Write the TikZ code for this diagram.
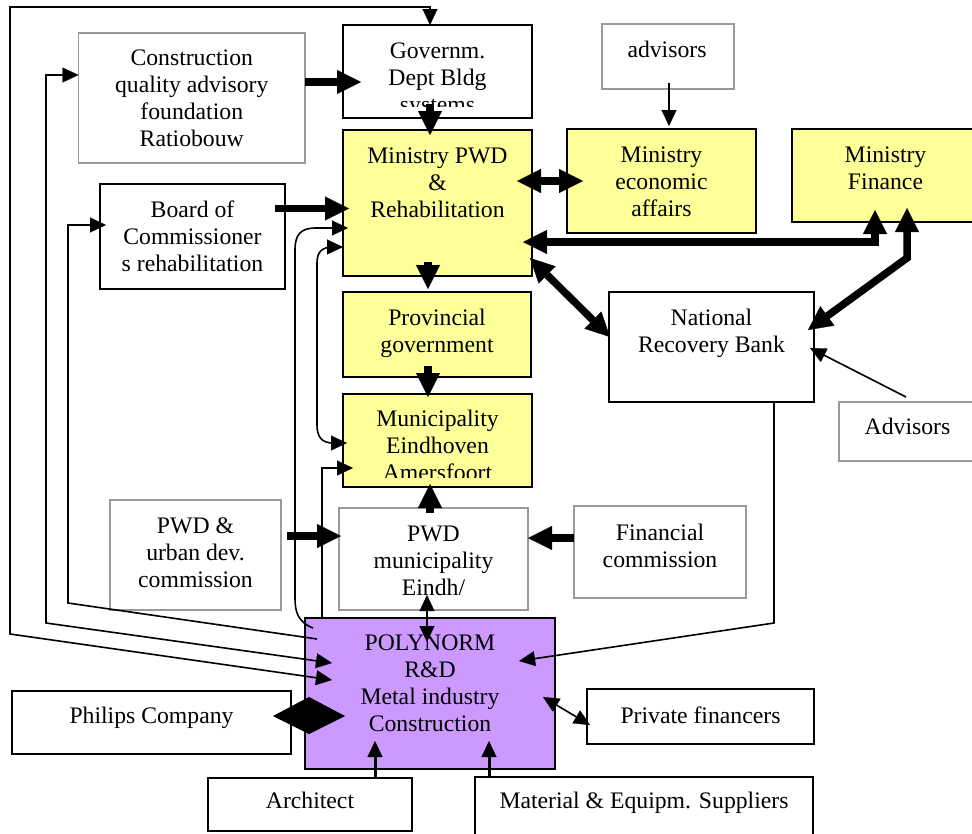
\documentclass[tikz,border=0pt]{standalone}
\usepackage{fontspec}
\setmainfont{Liberation Serif}
\usetikzlibrary{arrows.meta}
\definecolor{ylw}{HTML}{FFFF99}
\definecolor{prp}{HTML}{CC99FF}
\definecolor{gry}{HTML}{9A9A9A}
\newcommand\dfont{\fontsize{23.7}{27}\selectfont}
\newcommand\tb[2]{\parbox[t]{#1pt}{\centering #2}}
\newcommand\mkbox[6]{\node[#2, minimum width=#5pt-#3pt, minimum height=#6pt-#4pt] (#1) at (#3,#4) {};}
\begin{document}
\begin{tikzpicture}[x=1pt,y=-1pt,
  bx/.style={rectangle, anchor=north west, inner sep=0pt, outer sep=0pt, line width=1.4pt},
  bk/.style={bx, draw=black},
  gy/.style={bx, draw=gry},
  yl/.style={bk, fill=ylw},
  pp/.style={bk, fill=prp},
  tx/.style={anchor=base, inner sep=0pt, outer sep=0pt, font=\dfont},
  th/.style={line width=1.6pt},
  a1/.style={th, -{Triangle[length=16pt,width=15pt,line width=0.3pt]}},
  a2/.style={th, {Triangle[length=16pt,width=15pt,line width=0.3pt]}-{Triangle[length=16pt,width=15pt,line width=0.3pt]}},
  tk/.style={line width=7.5pt},
  b1/.style={tk, -{Triangle[length=24pt,width=24pt,line width=0.3pt]}},
  b2/.style={tk, {Triangle[length=24pt,width=24pt,line width=0.3pt]}-{Triangle[length=24pt,width=24pt,line width=0.3pt]}}
]
\useasboundingbox (0,0) rectangle (972,833);
\fill[white] (0,0) rectangle (972,833);

% boxes
\mkbox{gov}{bk}{343}{25}{532}{118}
\mkbox{cqa}{gy}{78.5}{33}{305}{163}
\mkbox{adv1}{gy}{602}{24}{734}{89}
\mkbox{mpwd}{yl}{343}{130}{532}{276}
\mkbox{mec}{yl}{567}{129}{756}{233}
\mkbox{mfin}{yl}{792}{129}{979}{222}
\mkbox{boc}{bk}{100}{184}{285}{289}
\mkbox{prov}{yl}{343}{292}{531}{377}
\mkbox{mun}{yl}{343}{394}{532}{487}
\mkbox{nrb}{bk}{609}{292}{814}{402}
\mkbox{adv2}{gy}{839}{402}{976}{461}
\mkbox{pwdu}{gy}{110}{500}{281}{610}
\mkbox{pwdm}{gy}{339}{508}{528}{610}
\mkbox{fin}{gy}{574}{506}{746}{598}
\mkbox{poly}{pp}{305}{618}{555}{769}
\mkbox{phil}{bk}{12}{691}{291}{754}
\mkbox{priv}{bk}{587}{689}{814}{744}
\mkbox{arch}{bk}{208}{778}{412}{831}
\mkbox{mat}{bk}{475}{777}{813}{845}

% texts
\begin{scope}
\clip (343,25) rectangle (532,106);
\node[tx] (govT) at (437.5,58) {\tb{189}{Governm.\\Dept Bldg\\systems}};
\end{scope}
\node[tx] (cqaT) at (191.75,65) {\tb{226}{Construction\\quality advisory\\foundation\\Ratiobouw}};
\node[tx] (adv1T) at (667,57) {\tb{132}{advisors}};
\node[tx] (mpwdT) at (437.5,163) {\tb{189}{Ministry PWD\\\&\\Rehabilitation}};
\node[tx] (mecT) at (661.5,162) {\tb{189}{Ministry\\economic\\affairs}};
\node[tx] (mfinT) at (885.5,162) {\tb{187}{Ministry\\Finance}};
\node[tx] (bocT) at (192.5,217) {\tb{185}{Board of\\Commissioner\\s rehabilitation}};
\node[tx] (provT) at (437,325) {\tb{188}{Provincial\\government}};
\begin{scope}
\clip (343,394) rectangle (532,477);
\node[tx] (munT) at (437.5,426) {\tb{189}{Municipality\\Eindhoven\\Amersfoort}};
\end{scope}
\node[tx] (nrbT) at (711.5,325) {\tb{205}{National\\Recovery Bank}};
\node[tx] (adv2T) at (907.5,434) {\tb{137}{Advisors}};
\node[tx] (pwduT) at (195.5,533) {\tb{171}{PWD \&\\urban dev.\\commission}};
\node[tx] (pwdmT) at (433.5,541) {\tb{189}{PWD\\municipality\\Eindh/}};
\node[tx] (finT) at (660,540) {\tb{172}{Financial\\commission}};
\node[tx] (polyT) at (430,650) {\tb{250}{POLYNORM\\R\&D\\Metal industry\\Construction}};
\node[tx] (philT) at (151.5,723) {\tb{279}{Philips Company}};
\node[tx] (privT) at (700.5,723) {\tb{227}{Private financers}};
\node[tx] (archT) at (310,808) {\tb{204}{Architect}};
\node[tx] (matT) at (644,808) {\tb{338}{Material \& Equipm. Suppliers}};

% free connector ends
\coordinate (c1) at (332,680);
\coordinate (c2) at (332,663);
\coordinate (c3) at (317,639);
\coordinate (c4) at (313,628);
\coordinate (c5) at (348,228);
\coordinate (c6) at (343,247);
\coordinate (c7) at (347,443);
\coordinate (c8) at (322,618);
\coordinate (c9) at (353,468);
\coordinate (c10) at (519,661);

% thin connectors
\draw[a2] ([xshift=-7.5pt]gov.north) -- (430,7) -- (10,7) -- (10,634) -- (c1);
\draw[a2] (c2) -- (46,623) -- (46,75) -- (cqa.west |- 0,75);
\draw[a1] (c3) -- (68,603) -- (68,225) -- (106,225);
\draw[a1] (c4) .. controls (298,622) and (295,612) .. (295,598) -- (295,250) .. controls (295,234) and (301,228) .. (316,228) -- (c5);
\draw[a2] (c6) -- (333,247) .. controls (322,247) and (317,252) .. (317,263) -- (317,425) .. controls (317,437) and (322,443) .. (333,443) -- (c7);
\draw[a1] (c8) -- (322,468) -- (c9);
\draw[a1] (774,402) -- (774,623) -- (c10);
\draw[a1] (906,397) -- (810,348);
\draw[a1] (669,83) -- (669,126);
\draw[a2] (427,595) -- (427,642);
\draw[a2] (543,697) -- (590,725);
\draw[a1, line width=3pt] (375,778) -- (375,741);
\draw[a1, line width=3pt] (489,777) -- (489,741);

% thick connectors
\draw[b1] (305,82) -- (361,82);
\draw[b1] (275,208.5) -- (349,208.5);
\draw[b1] (430,104) -- (430,135);
\draw[b1] (428,262) -- (428,289);
\draw[b1] (428,366) -- (428,397);
\draw[b1] (430,513) -- (430,484);
\draw[b1] (287,536) -- (341,536);
\draw[b1] (574,538) -- (528,538);
\draw[b2] (517,181) -- (583,181);
\draw[b2] (523,242) -- (875,242) -- (875,210);
\draw[b2] (530,258) -- (610,337);
\draw[b2] (907,208) -- (907,258) -- (808,330);

% Philips <-> POLYNORM
\fill (273,716) -- (309,697) -- (345,716) -- (309,734) -- cycle;
\end{tikzpicture}
\end{document}
